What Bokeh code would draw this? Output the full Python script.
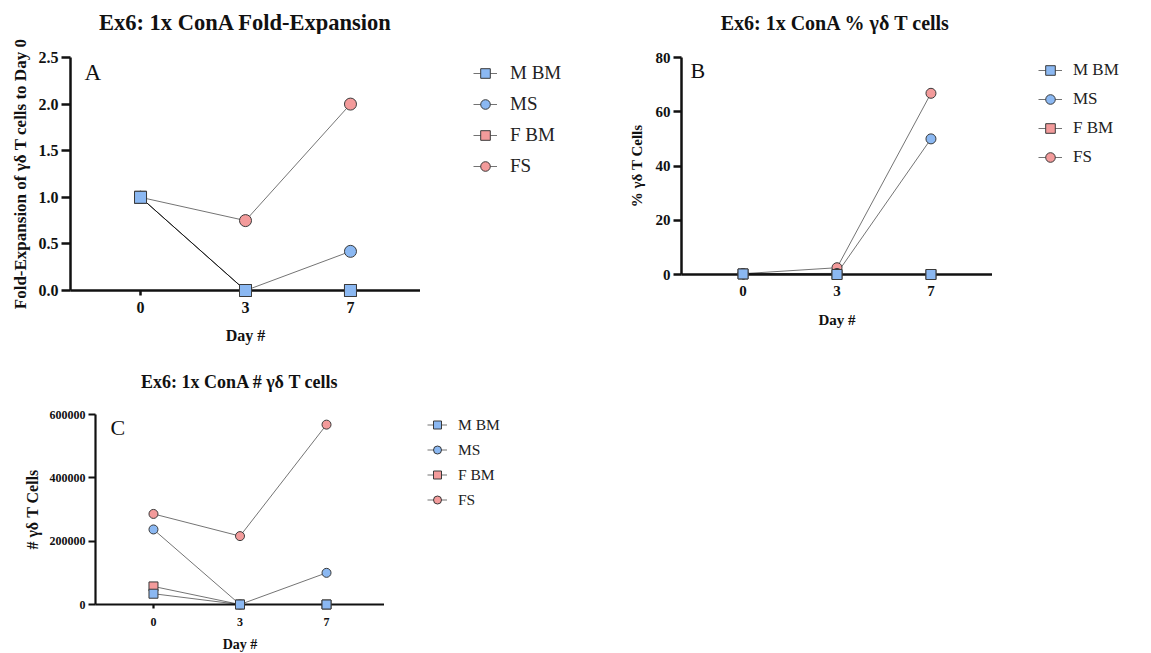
from bokeh.plotting import figure
from bokeh.layouts import column, row
from bokeh.models import (Range1d, FixedTicker, Legend, LegendItem, Label,
                          NumeralTickFormatter)
from bokeh.embed import file_html
from bokeh.resources import INLINE

# ---------------- data ----------------
days = ["0", "3", "7"]
series = ["M BM", "MS", "F BM", "FS"]
markers = ["square", "circle", "square", "circle"]
colors = ["#8BB8F2", "#8BB8F2", "#F39B9B", "#F39B9B"]

fold_mbm = [1.0, 0.0, 0.0]
fold_ms = [1.0, 0.0, 0.42]
fold_fbm = [1.0, 0.0, 0.0]
fold_fs = [1.0, 0.75, 2.0]

pct_mbm = [0.2, 0.0, 0.0]
pct_ms = [0.3, 0.4, 50.0]
pct_fbm = [0.2, 0.0, 0.0]
pct_fs = [0.3, 2.5, 66.8]

num_mbm = [34000, 0, 0]
num_ms = [237000, 0, 100000]
num_fbm = [57000, 0, 0]
num_fs = [286000, 216000, 568000]

fold_ticks = [0.0, 0.5, 1.0, 1.5, 2.0, 2.5]
pct_ticks = [0, 20, 40, 60, 80]
num_ticks = [0, 200000, 400000, 600000]

titles = ["Ex6: 1x ConA Fold-Expansion", "Ex6: 1x ConA % γδ T cells",
          "Ex6: 1x ConA # γδ T cells"]
ylabels = ["Fold-Expansion of γδ T cells to Day 0", "% γδ T Cells",
           "# γδ T Cells"]
xlabel = "Day #"

SERIF = "Liberation Serif"
LINE_KW = dict(line_color="#000000", line_alpha=0.55, line_width=1)
PT_KW = dict(line_color="#3a3a3a", line_width=1)


def blank_fig(width, height):
    q = figure(width=width, height=height, min_border=0,
               x_range=Range1d(0, 1), y_range=Range1d(0, 1),
               x_axis_location=None, y_axis_location=None,
               output_backend="svg", toolbar_location=None)
    q.outline_line_color = None
    q.grid.visible = False
    q.border_fill_color = "white"
    q.background_fill_color = "white"
    return q


def title_strip(text, width, height, cx, cy, size):
    q = blank_fig(width, height)
    q.add_layout(Label(x=cx, y=height - cy, x_units="screen", y_units="screen",
                       text=text, text_font=SERIF, text_font_style="bold",
                       text_font_size=size, text_align="center",
                       text_baseline="middle", text_color="#111111"))
    return q


def make_panel(values, yticks, yfmt, ylabel, letter, cfg, title=None):
    xs = list(range(len(days)))
    x0, x1 = -cfg["xpad"], len(days) - 1 + cfg["xpad"]
    kw = {}
    if title is not None:
        kw["title"] = title
    p = figure(frame_width=cfg["fw"], frame_height=cfg["fh"],
               min_border_left=cfg["bl"], min_border_right=0,
               min_border_top=cfg["bt"], min_border_bottom=cfg["bb"],
               x_range=Range1d(x0, x1),
               y_range=Range1d(yticks[0], yticks[-1]),
               output_backend="svg", toolbar_location=None, **kw)
    p.outline_line_color = None
    p.grid.visible = False
    p.background_fill_color = "white"
    p.border_fill_color = "white"

    if title is not None:
        p.title.align = "center"
        p.title.vertical_align = "top"
        p.title.standoff = cfg["title_so"]
        p.title.text_font = SERIF
        p.title.text_font_style = "bold"
        p.title.text_font_size = cfg["title_fs"]
        p.title.text_color = "#111111"

    for ax in (p.xaxis[0], p.yaxis[0]):
        ax.axis_line_width = cfg["axw"]
        ax.axis_line_color = "#111111"
        ax.major_tick_line_width = cfg["axw"]
        ax.major_tick_line_color = "#111111"
        ax.major_tick_in = 0
        ax.minor_tick_line_color = None
        ax.major_label_text_font = SERIF
        ax.major_label_text_font_style = "bold"
        ax.major_label_text_font_size = cfg["tick_fs"]
        ax.major_label_text_color = "#111111"
        ax.axis_label_text_font = SERIF
        ax.axis_label_text_font_style = "bold"
        ax.axis_label_text_color = "#111111"

    p.xaxis.ticker = FixedTicker(ticks=xs)
    p.xaxis.major_label_overrides = {i: d for i, d in enumerate(days)}
    p.xaxis.major_tick_out = cfg["xtick"]
    p.xaxis.major_label_standoff = cfg["xstand"]
    p.xaxis.axis_label = xlabel
    p.xaxis.axis_label_text_font_size = cfg["xlab_fs"]
    p.xaxis.axis_label_standoff = cfg["xlab_stand"]

    p.yaxis.ticker = FixedTicker(ticks=yticks)
    p.yaxis.formatter = NumeralTickFormatter(format=yfmt)
    p.yaxis.major_tick_out = cfg["ytick"]
    p.yaxis.major_label_standoff = cfg["ystand"]
    p.yaxis.axis_label = ylabel
    p.yaxis.axis_label_text_font_size = cfg["ylab_fs"]
    p.yaxis.axis_label_standoff = cfg["ylab_stand"]

    # draw order: FS, F BM, MS, M BM (M BM on top)
    order = [3, 2, 1, 0]
    for i in order:
        p.line(xs, values[i], **LINE_KW)
    for i in order:
        p.scatter(xs, values[i], marker=markers[i], size=cfg["msize"],
                  fill_color=colors[i], level="overlay", **PT_KW)

    # panel letter
    p.add_layout(Label(x=cfg["let_x"], y=cfg["let_y"], x_units="screen",
                       y_units="screen", text=letter, text_font=SERIF,
                       text_font_size=cfg["let_fs"], text_baseline="middle",
                       text_color="#111111"))
    return p


def make_legend_fig(cfg, height):
    q = blank_fig(cfg["lw"], height)
    q.min_border_left = cfg["lx"]
    q.min_border_top = cfg["bt"]
    items = []
    for i in range(4):
        # placeholder renderers (off-range) used only for legend glyphs
        lr = q.line([-5, -4], [-5, -4], **LINE_KW)
        sr = q.scatter([-5], [-5], marker=markers[i], fill_color=colors[i],
                       size=cfg["msize"], **PT_KW)
        items.append(LegendItem(label=series[i], renderers=[lr, sr]))
    lg = Legend(items=items, location="top_left", orientation="vertical",
                padding=0, margin=cfg["lm"], border_line_color=None,
                background_fill_alpha=0,
                glyph_width=cfg["gw"], glyph_height=cfg["gh"],
                spacing=cfg["lsp"], label_standoff=cfg["lstand"],
                label_text_font=SERIF, label_text_font_size=cfg["leg_fs"],
                label_text_color="#222222", label_height=cfg["gh"])
    q.add_layout(lg, "center")
    return q


STRIP_H = 34
ROW1_H = 314
ROW2_H = 305
TOP1 = 57 - STRIP_H   # frames of row 1 are aligned at this top border

cfgA = dict(fw=350, fh=233, bl=70, bt=TOP1, bb=ROW1_H - TOP1 - 233,
            xpad=0.667, axw=2.5, tick_fs="16px",
            xtick=5, xstand=6, xlab_fs="16px", xlab_stand=11,
            ytick=9, ystand=3, ylab_fs="17px", ylab_stand=6,
            msize=12, let_x=14, let_y=218, let_fs="23px",
            lw=188, lx=50, lm=3, gw=24, gh=26, lsp=5, lstand=13,
            leg_fs="19px")

cfgB = dict(fw=311, fh=217, bl=73, bt=TOP1, bb=ROW1_H - TOP1 - 217,
            xpad=0.655, axw=2.5, tick_fs="15px",
            xtick=5, xstand=6, xlab_fs="15px", xlab_stand=13,
            ytick=8, ystand=3, ylab_fs="15px", ylab_stand=8,
            msize=10, let_x=9, let_y=204, let_fs="22px",
            lw=159, lx=45, lm=1, gw=24, gh=24, lsp=5, lstand=11,
            leg_fs="17px")

cfgC = dict(fw=289, fh=190, bl=95, bt=66, bb=ROW2_H - 66 - 190, xpad=0.67,
            title_fs="18px", title_so=41, axw=2.2, tick_fs="12px",
            xtick=4, xstand=9, xlab_fs="14px", xlab_stand=8,
            ytick=7, ystand=3, ylab_fs="16px", ylab_stand=6,
            msize=9, let_x=15, let_y=177, let_fs="22px",
            lw=216, lx=43, lm=0, gw=20, gh=21, lsp=4, lstand=11,
            leg_fs="15.5px")

pA = make_panel([fold_mbm, fold_ms, fold_fbm, fold_fs], fold_ticks, "0.0",
                ylabels[0], "A", cfgA)
pB = make_panel([pct_mbm, pct_ms, pct_fbm, pct_fs], pct_ticks, "0",
                ylabels[1], "B", cfgB)
pC = make_panel([num_mbm, num_ms, num_fbm, num_fs], num_ticks, "0",
                ylabels[2], "C", cfgC, title=titles[2])

tA = title_strip(titles[0], 608, STRIP_H, 245, 22, "22.5px")
tB = title_strip(titles[1], 543, STRIP_H, 227, 22, "20px")

legA = make_legend_fig(cfgA, ROW1_H)
legB = make_legend_fig(cfgB, ROW1_H)
legC = make_legend_fig(cfgC, ROW2_H)

layout = column(row(tA, tB), row(pA, legA, pB, legB), row(pC, legC))
open("out.html", "w").write(file_html(layout, INLINE))
